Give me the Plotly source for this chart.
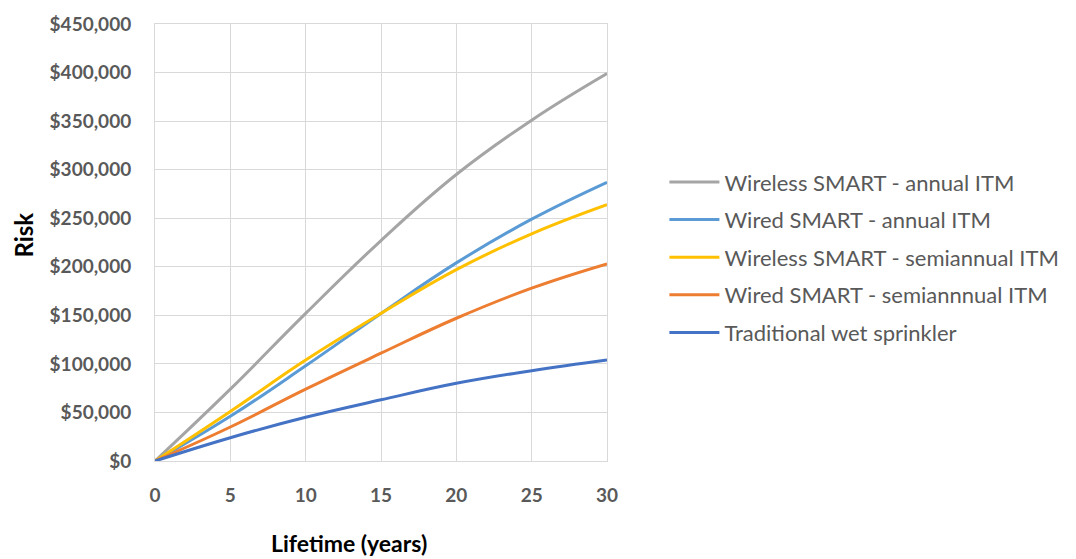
import plotly.graph_objects as go

# Lifetime in years and cumulative risk (USD) for each sprinkler option
years = [0, 5, 10, 15, 20, 25, 30]
wireless_annual = [0, 74000, 152000, 227000, 295000, 351000, 399000]
wired_annual = [0, 46000, 98000, 152000, 204000, 249000, 287000]
wireless_semiannual = [0, 51000, 104000, 152000, 197000, 234000, 264000]
wired_semiannual = [0, 35000, 74000, 111000, 147000, 178000, 203000]
traditional_wet = [0, 24000, 45000, 63000, 80000, 93000, 104000]

series = [
    ("Wireless SMART - annual ITM", wireless_annual, "#A5A5A5"),
    ("Wired SMART - annual ITM", wired_annual, "#5B9BD5"),
    ("Wireless SMART - semiannual ITM", wireless_semiannual, "#FFC000"),
    ("Wired SMART - semiannnual ITM", wired_semiannual, "#ED7D31"),
    ("Traditional wet sprinkler", traditional_wet, "#4472C4"),
]

FONT = "Lato"

fig = go.Figure()
for i, (name, vals, color) in enumerate(series):
    fig.add_trace(go.Scatter(
        x=years, y=vals, name=name, mode="lines", legendgroup=f"g{i}",
        line=dict(color=color, width=3, shape="spline", smoothing=1.2),
    ))

fig.update_layout(
    width=1076, height=559,
    margin=dict(l=155, r=467, t=22, b=98),
    paper_bgcolor="white", plot_bgcolor="white",
    font=dict(family=FONT, color="#595959"),
    legend=dict(
        x=1.127, y=0.686, xanchor="left", yanchor="top",
        font=dict(family=FONT, size=22, color="#595959"),
        tracegroupgap=6, itemwidth=50,
        bgcolor="rgba(0,0,0,0)",
    ),
    showlegend=True,
)

fig.update_xaxes(
    range=[0, 30], dtick=5, tick0=0,
    showgrid=True, gridcolor="#D9D9D9", gridwidth=1,
    showline=True, linecolor="#D9D9D9", mirror=True,
    zeroline=False,
    ticks="", ticklabelstandoff=17,
    tickfont=dict(family=FONT, size=19, color="#595959", weight="bold"),
)
fig.update_yaxes(
    range=[0, 450000], dtick=50000, tick0=0,
    tickformat="$,.0f",
    showgrid=True, gridcolor="#D9D9D9", gridwidth=1,
    showline=True, linecolor="#D9D9D9", mirror=True,
    zeroline=False,
    ticks="", ticklabelstandoff=19,
    tickfont=dict(family=FONT, size=19, color="#595959", weight="bold"),
)

# Axis titles placed as annotations in pixel-aligned paper coordinates
fig.add_annotation(
    text="Lifetime (years)", xref="paper", yref="paper",
    x=(350 - 155) / 454, y=-(543 - 461) / 439,
    xanchor="center", yanchor="middle", showarrow=False,
    font=dict(family=FONT, size=23, color="black", weight="bold"),
)
fig.add_annotation(
    text="Risk", xref="paper", yref="paper",
    x=-(155 - 22) / 454, y=(461 - 234) / 439, textangle=-90,
    xanchor="center", yanchor="middle", showarrow=False,
    font=dict(family=FONT, size=24, color="black", weight="bold"),
)

fig.write_html("out.html")
